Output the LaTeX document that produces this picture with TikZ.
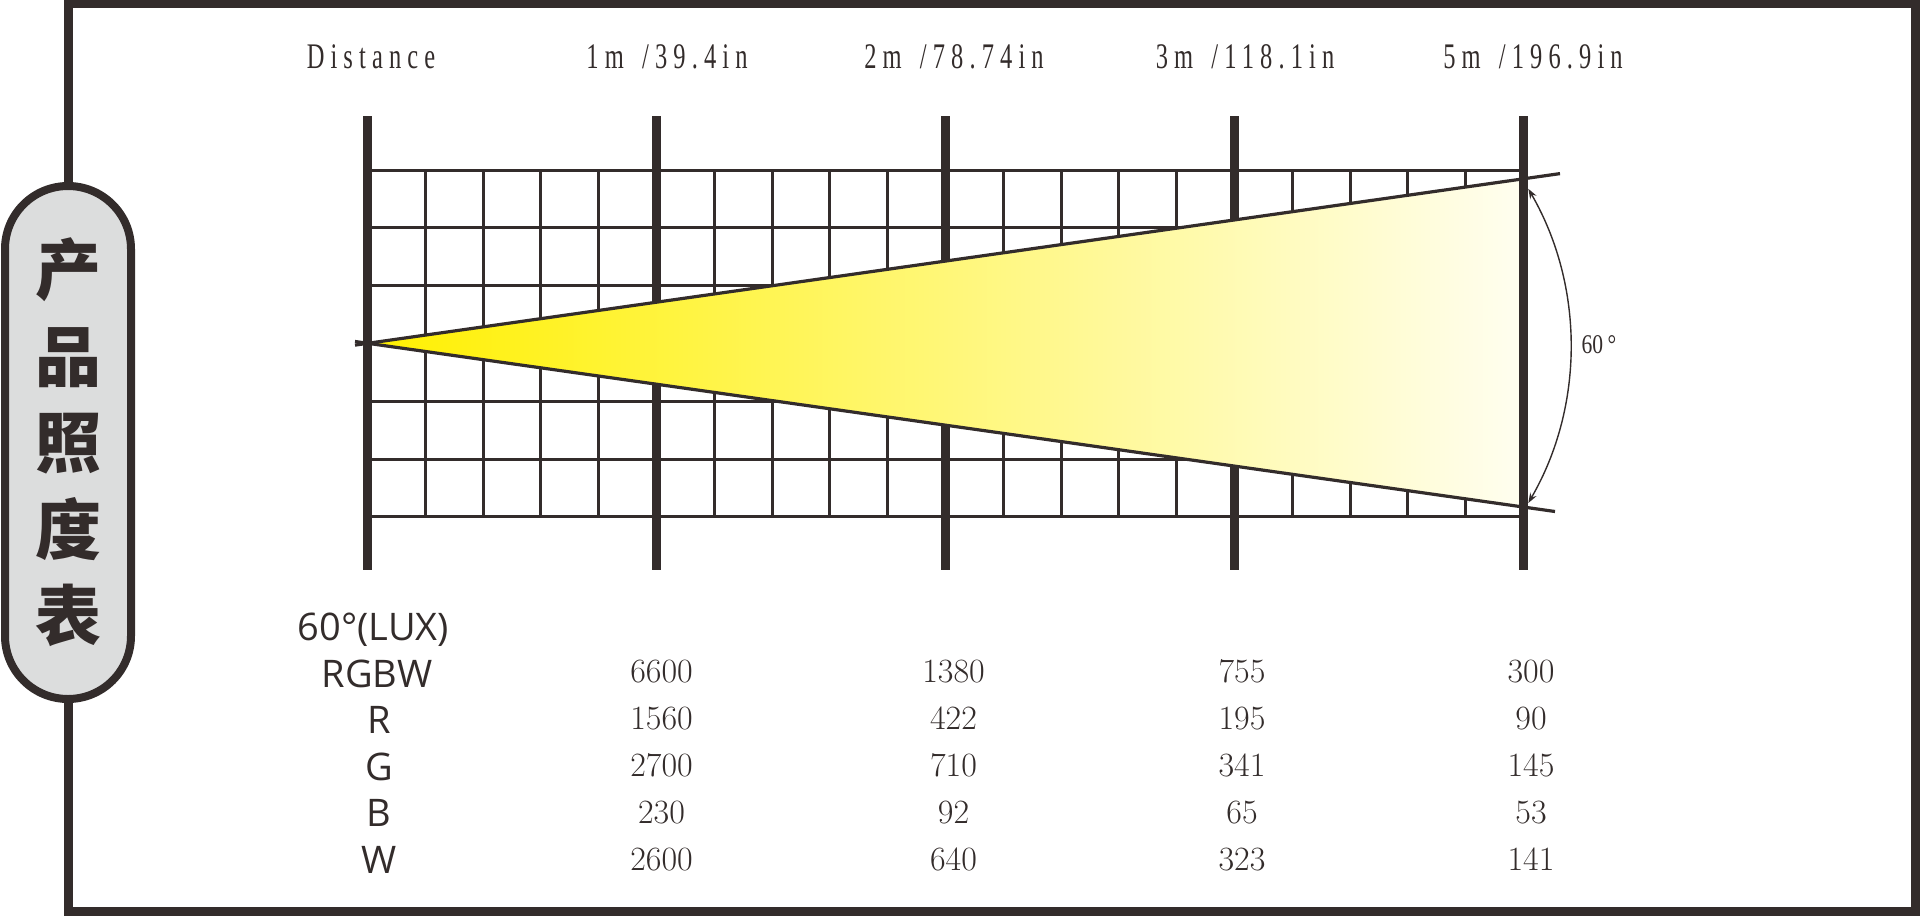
\documentclass[tikz,border=0pt]{standalone}
\usepackage{fontspec}
\usetikzlibrary{arrows.meta}
\newfontfamily\cjkfont{Noto Sans CJK SC}
\newfontfamily\toplblfont{Liberation Serif}[FakeStretch=0.68,LetterSpace=17]
\newfontfamily\anglefont{Liberation Serif}[FakeStretch=0.8]
\newfontfamily\uisans{Open Sans}
\newcommand\gapsp{\ \hspace{3pt}}
\definecolor{ink}{RGB}{51,44,43}
\definecolor{pillgray}{RGB}{220,221,221}
\definecolor{beamL}{RGB}{255,240,0}
\definecolor{beamR}{RGB}{255,254,240}
\begin{document}
\begin{tikzpicture}[x=0.5pt,y=-0.5pt,
  frameline/.style={draw=ink,line width=4.3pt},
  pill/.style={draw=ink,fill=pillgray,line width=4pt,rounded corners=31.5pt},
  majorline/.style={draw=ink,line width=4.4pt},
  minorline/.style={draw=ink,line width=1.5pt},
  beamedge/.style={draw=ink,line width=1.6pt},
  anglearrow/.style={draw=ink,line width=0.7pt,{Stealth[length=5pt,width=3.6pt]}-{Stealth[length=5pt,width=3.6pt]}},
  toplbl/.style={text=ink,font=\toplblfont\fontsize{18}{20}\selectfont,anchor=base,inner sep=0pt},
  anglelbl/.style={text=ink,font=\anglefont\fontsize{13.5}{15}\selectfont,anchor=base,inner sep=0pt},
  rowlbl/.style={text=ink,font=\uisans\fontsize{19}{22}\selectfont,anchor=base,inner sep=0pt},
  numlbl/.style={text=ink,font=\fontsize{17}{20}\selectfont,anchor=base,inner sep=0pt},
  titletext/.style={text=ink,font=\cjkfont\bfseries\fontsize{33}{43.25}\selectfont,align=center,inner sep=0pt}
]
\useasboundingbox (0,0) rectangle (1920,916);
% outer frame
\draw[frameline] (68.3,3.9) rectangle (1915.7,911.7);
% title pill
\draw[pill] (5,186) rectangle (131,699);
\node[titletext] (title) at (68,442.5) {产\\品\\照\\度\\表};
% grid
\foreach \j in {0,...,6}
  \draw[minorline] (367.5,{170+57.8*\j}) -- (1523.5,{170+57.8*\j});
\foreach \k in {1,...,19}{
  \pgfmathtruncatemacro{\r}{mod(\k,5)}
  \ifnum\r=0\relax\else
    \draw[minorline] ({367.5+57.8*\k},170) -- ({367.5+57.8*\k},516.8);
  \fi
}
\foreach \i in {0,...,3}
  \draw[majorline] ({367.5+289*\i},116) -- ({367.5+289*\i},570);
% beam
\coordinate (apex) at (367.5,343.3);
\coordinate (beamUp) at (1523.5,179);
\coordinate (beamDn) at (1523.5,507);
\coordinate (edgeUpA) at (355,345.1);
\coordinate (edgeUpB) at (1560,173.6);
\coordinate (edgeDnA) at (355,341.5);
\coordinate (edgeDnB) at (1555,511.5);
\shade[left color=beamL,right color=beamR] (apex) -- (beamUp) -- (beamDn) -- cycle;
\draw[beamedge] (edgeUpA) -- (edgeUpB);
\draw[beamedge] (edgeDnA) -- (edgeDnB);
\draw[majorline] (1523.5,116) -- (1523.5,570);
% angle arc
\coordinate (arcA) at (1528.3,188.8);
\coordinate (arcB) at (1528.3,503);
\draw[anglearrow] (arcA) .. controls (1584.5,286) and (1584.5,406) .. (arcB);
\node[anglelbl] (anglelabel) at (1599,353) {60\,°};
% distance labels
\node[toplbl] (dist) at (371,68) {Distance};
\node[toplbl] (d1) at (667,68) {1m\gapsp/39.4in};
\node[toplbl] (d2) at (954,68) {2m\gapsp/78.74in};
\node[toplbl] (d3) at (1245,68) {3m\gapsp/118.1in};
\node[toplbl] (d5) at (1533,68) {5m\gapsp/196.9in};
% table
\node[rowlbl] (hdr) at (373.5,640) {60°(LUX)};
\node[rowlbl] (rRGBW) at (377,687) {RGBW};
\node[rowlbl] (rR) at (379,733.5) {R};
\node[rowlbl] (rG) at (379,780) {G};
\node[rowlbl] (rB) at (379,826.5) {B};
\node[rowlbl] (rW) at (379,873) {W};
\node[numlbl] (n11) at (661.5,682) {6600};
\node[numlbl] (n12) at (953.5,682) {1380};
\node[numlbl] (n13) at (1242,682) {755};
\node[numlbl] (n15) at (1531,682) {300};
\node[numlbl] (n21) at (661.5,729) {1560};
\node[numlbl] (n22) at (953.5,729) {422};
\node[numlbl] (n23) at (1242,729) {195};
\node[numlbl] (n25) at (1531,729) {90};
\node[numlbl] (n31) at (661.5,776) {2700};
\node[numlbl] (n32) at (953.5,776) {710};
\node[numlbl] (n33) at (1242,776) {341};
\node[numlbl] (n35) at (1531,776) {145};
\node[numlbl] (n41) at (661.5,823) {230};
\node[numlbl] (n42) at (953.5,823) {92};
\node[numlbl] (n43) at (1242,823) {65};
\node[numlbl] (n45) at (1531,823) {53};
\node[numlbl] (n51) at (661.5,870) {2600};
\node[numlbl] (n52) at (953.5,870) {640};
\node[numlbl] (n53) at (1242,870) {323};
\node[numlbl] (n55) at (1531,870) {141};
\end{tikzpicture}
\end{document}
